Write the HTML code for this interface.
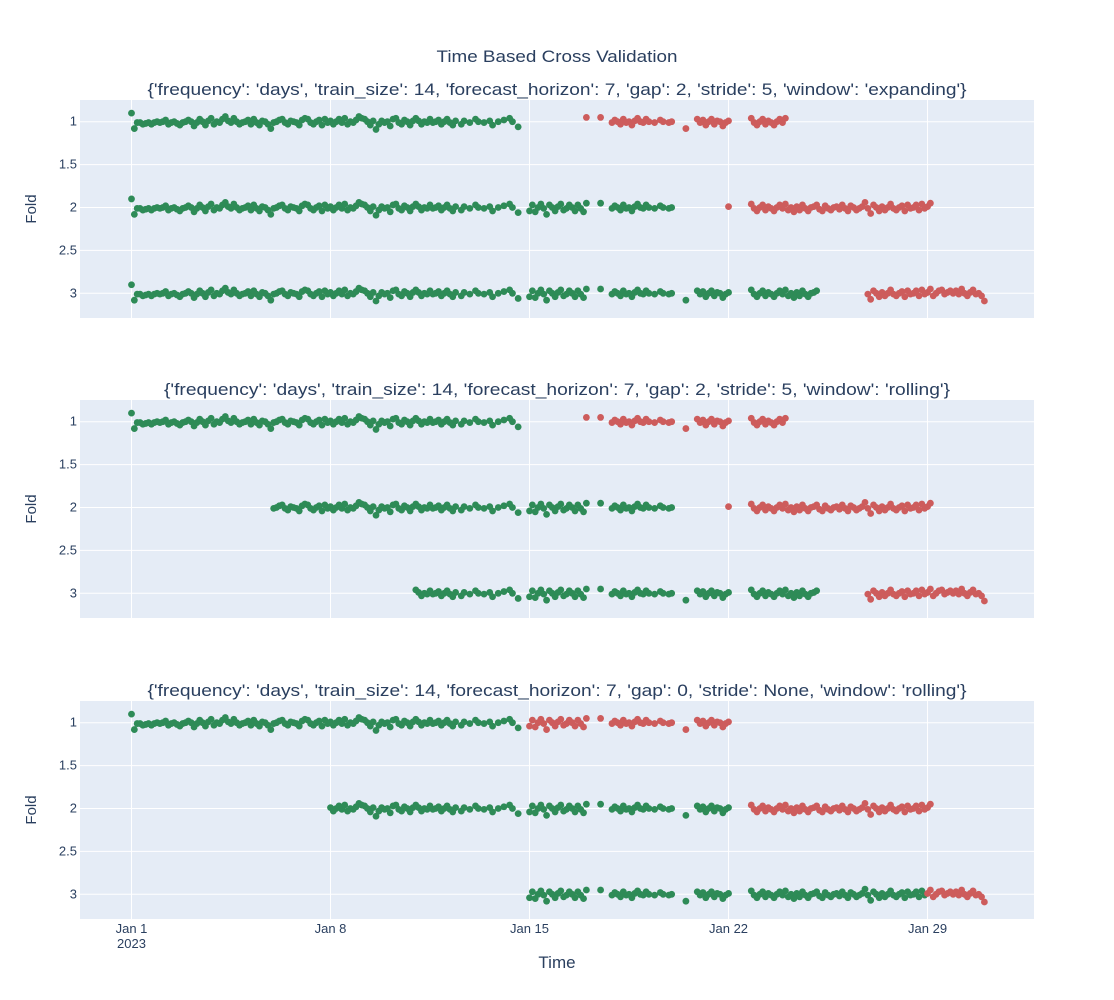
<!DOCTYPE html>
<html><head><meta charset="utf-8"><style>
body{margin:0;background:#fff;}
svg{display:block;font-family:"Liberation Sans",Arial,sans-serif;}
</style></head><body>
<svg id="chart" width="1114" height="1000" viewBox="0 0 1114 1000" xmlns="http://www.w3.org/2000/svg">
<text x="557" y="62" text-anchor="middle" font-size="17" fill="#2a3f5f" textLength="241" lengthAdjust="spacingAndGlyphs">Time Based Cross Validation</text>
<text x="557" y="968" text-anchor="middle" font-size="17" fill="#2a3f5f">Time</text>
</svg>
<script>
// jitter per 0.1-day sample (hundredths of a fold), null = missing sample
const jitter = [
-10,8,1,1,3,2,1,3,1,0, 1,0,-2,3,1,0,2,4,1,0, -2,0,5,1,-3,0,4,-1,-4,3, 0,1,-3,-6,-1,1,-4,0,3,1,
0,-2,3,-3,1,4,-1,0,3,8, 1,0,-2,-3,1,3,-1,0,1,4, -2,-4,-3,1,3,0,-2,4,-3,1, -1,3,0,-3,1,-4,3,0,1,-2,
-6,-4,-3,0,4,-1,9,3,-1,1, 0,5,-3,-4,1,3,-2,0,4,-1, -4,-1,3,0,1,-3,1,0,-2,3, 0,-3,1,4,-1,null,3,-1,null,1,
null,-3,0,null,1,null,-1,4,null,0, null,-2,null,-4,0,null,6,null,null,null, 4,-3,5,0,-4,1,8,-3,0,4, -1,-4,3,1,-3,0,4,-3,1,5,
-5,null,null,null,null,-5,null,null,null,1, -2,0,3,-3,1,0,4,-1,-4,0, 1,-3,0,null,1,null,-2,0,null,1, 0,null,null,null,null,8,null,null,null,-3,
1,-2,4,0,-3,3,-1,0,5,1, -1,null,null,null,null,null,null,null,-4,1, 4,0,-3,3,-1,1,4,0,-3,1, -4,3,0,5,-1,3,-3,1,4,0,
-1,-3,2,4,-2,1,3,0,-1,2, -3,1,4,-2,0,3,1,-1,-6,1, 7,-3,0,4,-1,3,0,-4,1,3, 0,-2,4,-3,1,0,-3,3,-4,1,
-1,-5,3,0,-3,-4,1,-1,-3,0, -3,1,-5,0,3,-1,-4,1,0,3, 9
];
// windows per subplot per fold: [trainStart, trainEnd, testStart, testEnd] in days from Jan 1
const windows1 = [[0,14,15.95,23.05],[0,19.05,20.95,28.15],[0,24.15,25.85,30.1]];
const windows2 = [[0,14,15.95,23.05],[4.95,19.05,20.95,28.15],[9.95,24.15,25.85,30.1]];
const windows3 = [[0,14,14,21.05],[7,21.05,21.05,28.15],[14,27.95,27.95,30.1]];
const subtitles = [
"{'frequency': 'days', 'train_size': 14, 'forecast_horizon': 7, 'gap': 2, 'stride': 5, 'window': 'expanding'}",
"{'frequency': 'days', 'train_size': 14, 'forecast_horizon': 7, 'gap': 2, 'stride': 5, 'window': 'rolling'}",
"{'frequency': 'days', 'train_size': 14, 'forecast_horizon': 7, 'gap': 0, 'stride': None, 'window': 'rolling'}"];
const yTicks = [1,1.5,2,2.5,3];
const yTickLabels = ["1","1.5","2","2.5","3"];
const xTickDays = [0,7,14,21,28];
const xTickLabels = ["Jan 1","Jan 8","Jan 15","Jan 22","Jan 29"];

const NS="http://www.w3.org/2000/svg";
const svg=document.getElementById('chart');
const L=80,R=1034,x0=131.5,pxDay=28.43;
const xs=d=>x0+d*pxDay;
const subLens=[819,786,819];
const panels=[{top:100,bot:318,w:windows1},{top:400,bot:618,w:windows2},{top:701,bot:919,w:windows3}];
function mk(tag,attrs){const e=document.createElementNS(NS,tag);for(const k in attrs)e.setAttribute(k,attrs[k]);svg.appendChild(e);return e;}
panels.forEach((p,pi)=>{
  const ys=v=>p.top+21.7+(v-1)*85.8;
  const bg=mk('rect',{x:L,y:p.top,width:R-L,height:p.bot-p.top,fill:'#e5ecf6'});
  
  
  xTickDays.forEach(d=>{const g=mk('line',{x1:xs(d),x2:xs(d),y1:p.top,y2:p.bot,stroke:'#fff','stroke-width':1});
    });
  yTicks.forEach((v,i)=>{const g=mk('line',{x1:L,x2:R,y1:ys(v),y2:ys(v),stroke:'#fff','stroke-width':1});
    
    const t=mk('text',{x:L-3,y:ys(v)+4,'text-anchor':'end','font-size':13,fill:'#2a3f5f'});t.textContent=yTickLabels[i];
    });
  const yt=mk('text',{x:36,y:(p.top+p.bot)/2,'text-anchor':'middle','font-size':15,fill:'#2a3f5f',transform:`rotate(-90 36 ${(p.top+p.bot)/2})`});
  yt.textContent='Fold';
  const st=mk('text',{x:557,y:p.top-5,'text-anchor':'middle','font-size':17,fill:'#2a3f5f',textLength:subLens[pi],lengthAdjust:'spacingAndGlyphs'});st.textContent=subtitles[pi];
  
  p.w.forEach((w,fi)=>{
    jitter.forEach((j,i)=>{
      if(j===null)return;const d=i/10;
      let col=null;
      if(d>=w[0]-0.001&&d<w[1]-0.001)col='#2e8b57';
      else if(d>=w[2]-0.001&&d<w[3]-0.001)col='#cd5c5c';
      if(!col)return;
      const c=mk('circle',{cx:xs(d),cy:ys(fi+1+j/100),r:3.4,fill:col});
      
      
    });
  });
});
xTickDays.forEach((d,i)=>{const t=mk('text',{x:xs(d),y:933,'text-anchor':'middle','font-size':13,fill:'#2a3f5f'});t.textContent=xTickLabels[i];
  });
const yr=mk('text',{x:xs(0),y:948,'text-anchor':'middle','font-size':13,fill:'#2a3f5f'});yr.textContent='2023';

</script>
</body></html>
